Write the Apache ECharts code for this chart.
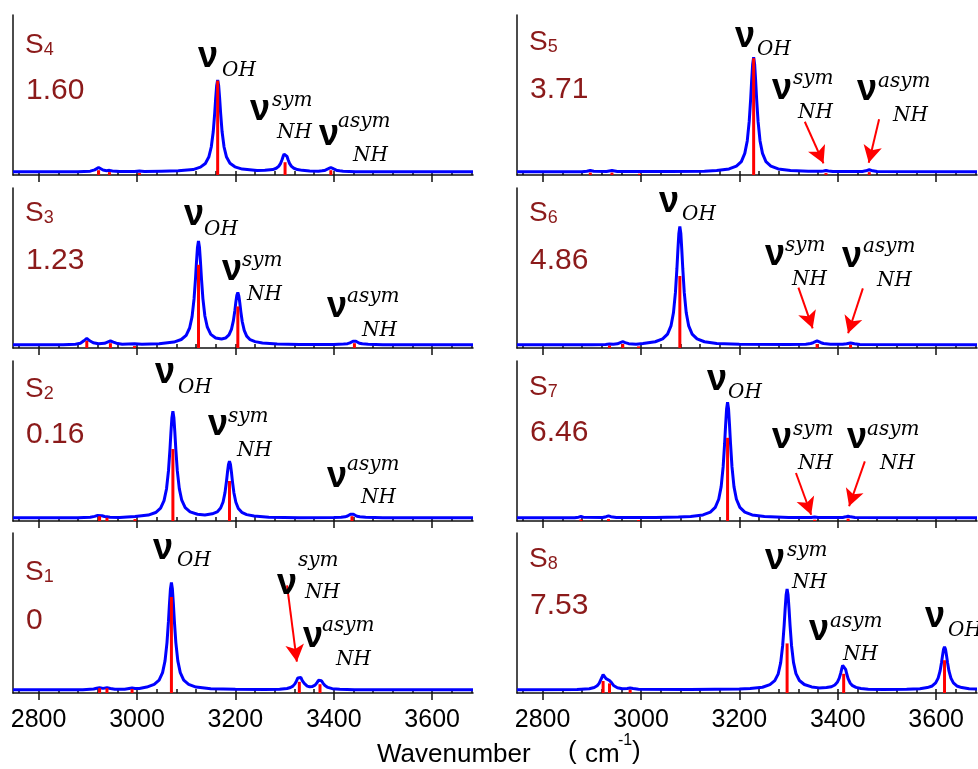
<!DOCTYPE html>
<html>
<head>
<meta charset="utf-8">
<script src="https://cdn.jsdelivr.net/npm/echarts@6/dist/echarts.min.js"></script>
<style>
  html, body { margin: 0; background: #fff; }
  #main { width: 978px; height: 769px; }
</style>
</head>
<body>
<div id="main"></div>
<script>
// wavenumber range and ticks (cm^-1)
const xMin = 2748
const xMax = 3683
const majorTicks = [2800, 3000, 3200, 3400, 3600]
const minorTicks = []
for (let v = 2760; v <= 3680; v += 40) minorTicks.push(v)

// state names and relative energies
const stateNames = ['S4', 'S3', 'S2', 'S1', 'S5', 'S6', 'S7', 'S8']
const energies = ['1.60', '1.23', '0.16', '0', '3.71', '4.86', '6.46', '7.53']

// broadened spectra (blue)
const curveS4 = [[2748,.02],[2880,.021],[2905,.024],[2914,.032],[2918,.039],[2922,.047],[2926,.039],[2931,.031],[2938,.027],[2944,.029],[2950,.025],[2965,.022],[2995,.022],[3005,.025],[3015,.022],[3050,.024],[3084,.026],[3114,.034],[3129,.049],[3139,.072],[3146,.112],[3151,.175],[3155,.27],[3158,.387],[3160,.48],[3162,.56],[3164,.594],[3166,.56],[3168,.48],[3170,.387],[3173,.27],[3177,.175],[3182,.112],[3189,.073],[3199,.051],[3214,.037],[3244,.028],[3260,.029],[3276,.034],[3283,.042],[3288,.054],[3292,.073],[3295,.097],[3297,.116],[3299,.131],[3301,.137],[3303,.131],[3305,.116],[3307,.097],[3310,.073],[3314,.054],[3319,.042],[3326,.034],[3336,.029],[3351,.025],[3369,.024],[3376,.026],[3381,.028],[3385,.033],[3388,.038],[3390,.042],[3394,.047],[3398,.042],[3400,.038],[3403,.033],[3407,.028],[3412,.026],[3419,.024],[3444,.021],[3683,.02]]
const curveS3 = [[2748,.02],[2850,.021],[2875,.024],[2885,.03],[2892,.045],[2895,.053],[2898,.06],[2901,.053],[2904,.045],[2911,.033],[2922,.026],[2934,.029],[2940,.037],[2943,.042],[2946,.045],[2949,.042],[2952,.037],[2958,.03],[2970,.024],[2995,.026],[3010,.024],[3045,.027],[3075,.037],[3090,.053],[3100,.079],[3107,.125],[3112,.196],[3116,.307],[3119,.436],[3121,.54],[3123,.63],[3125,.669],[3127,.63],[3129,.54],[3131,.437],[3134,.309],[3138,.2],[3143,.13],[3150,.085],[3160,.063],[3172,.056],[3180,.062],[3187,.082],[3192,.116],[3196,.171],[3199,.235],[3201,.288],[3203,.33],[3205,.347],[3207,.326],[3209,.282],[3211,.229],[3214,.164],[3218,.11],[3223,.074],[3230,.052],[3240,.04],[3255,.031],[3285,.025],[3330,.022],[3400,.022],[3420,.025],[3428,.027],[3433,.032],[3436,.036],[3439,.042],[3442,.048],[3445,.042],[3448,.036],[3452,.03],[3458,.026],[3470,.023],[3500,.021],[3683,.02]]
const curveS2 = [[2748,.02],[2880,.021],[2905,.024],[2914,.029],[2920,.035],[2924,.038],[2929,.033],[2934,.028],[2939,.027],[2945,.024],[2965,.022],[2980,.025],[2996,.028],[3023,.037],[3038,.053],[3048,.08],[3055,.127],[3060,.2],[3064,.313],[3067,.446],[3069,.553],[3071,.646],[3073,.686],[3075,.646],[3077,.553],[3079,.446],[3082,.313],[3086,.202],[3091,.13],[3098,.084],[3108,.057],[3123,.042],[3138,.038],[3153,.045],[3163,.057],[3170,.081],[3175,.119],[3179,.179],[3182,.25],[3184,.306],[3186,.354],[3188,.373],[3190,.354],[3192,.305],[3194,.248],[3197,.177],[3201,.117],[3206,.078],[3213,.054],[3223,.04],[3238,.031],[3268,.024],[3330,.021],[3400,.022],[3415,.023],[3423,.026],[3428,.031],[3431,.036],[3434,.042],[3437,.048],[3440,.042],[3443,.036],[3447,.03],[3453,.026],[3465,.023],[3500,.021],[3683,.02]]
const curveS1 = [[2748,.02],[2890,.021],[2912,.025],[2918,.03],[2924,.033],[2931,.029],[2939,.033],[2946,.028],[2955,.023],[2975,.023],[2984,.028],[2990,.031],[2996,.028],[3005,.028],[3020,.037],[3035,.054],[3045,.08],[3052,.127],[3057,.201],[3061,.315],[3064,.449],[3066,.556],[3068,.65],[3070,.69],[3072,.65],[3074,.556],[3076,.449],[3079,.315],[3083,.201],[3088,.127],[3095,.08],[3105,.054],[3120,.037],[3150,.027],[3200,.023],[3260,.022],[3290,.024],[3305,.028],[3312,.034],[3317,.043],[3321,.057],[3324,.074],[3327,.094],[3330,.105],[3333,.097],[3336,.077],[3340,.06],[3346,.043],[3351,.039],[3356,.04],[3362,.049],[3366,.065],[3369,.079],[3372,.084],[3375,.077],[3378,.062],[3382,.047],[3388,.035],[3397,.027],[3412,.023],[3442,.021],[3683,.02]]
const curveS5 = [[2748,.02],[2880,.02],[2890,.023],[2897,.028],[2904,.023],[2930,.022],[2941,.028],[2952,.022],[2997,.022],[3060,.022],[3129,.024],[3154,.028],[3179,.038],[3194,.056],[3204,.084],[3211,.135],[3216,.213],[3220,.335],[3223,.478],[3225,.593],[3227,.693],[3229,.736],[3231,.693],[3233,.593],[3235,.478],[3238,.335],[3242,.213],[3247,.135],[3254,.084],[3264,.056],[3279,.038],[3304,.028],[3340,.023],[3366,.023],[3371,.025],[3376,.028],[3381,.025],[3390,.022],[3450,.022],[3457,.026],[3461,.031],[3464,.033],[3467,.031],[3471,.026],[3480,.022],[3683,.02]]
const curveS6 = [[2748,.02],[2900,.021],[2928,.022],[2936,.025],[2944,.023],[2952,.026],[2958,.034],[2963,.04],[2968,.034],[2975,.027],[2990,.023],[2995,.025],[3004,.028],[3029,.039],[3044,.057],[3054,.087],[3061,.138],[3066,.22],[3070,.346],[3073,.494],[3075,.612],[3077,.716],[3079,.76],[3081,.716],[3083,.612],[3085,.494],[3088,.346],[3092,.22],[3097,.138],[3104,.087],[3114,.057],[3129,.039],[3154,.028],[3200,.023],[3300,.022],[3335,.024],[3345,.028],[3350,.033],[3354,.039],[3358,.044],[3362,.039],[3366,.033],[3371,.028],[3385,.023],[3410,.023],[3418,.026],[3422,.029],[3426,.031],[3430,.029],[3434,.026],[3445,.022],[3683,.02]]
const curveS7 = [[2748,.02],[2865,.02],[2873,.024],[2878,.028],[2883,.024],[2922,.022],[2929,.027],[2934,.032],[2939,.027],[2950,.022],[3030,.022],[3076,.025],[3101,.028],[3126,.038],[3141,.056],[3151,.085],[3158,.136],[3163,.215],[3167,.338],[3170,.483],[3172,.598],[3174,.7],[3176,.743],[3178,.7],[3180,.598],[3182,.483],[3185,.338],[3189,.215],[3194,.136],[3201,.085],[3211,.056],[3226,.038],[3251,.028],[3300,.022],[3346,.022],[3353,.025],[3360,.022],[3410,.022],[3416,.026],[3421,.03],[3426,.026],[3435,.022],[3683,.02]]
const curveS8 = [[2748,.02],[2870,.022],[2895,.027],[2905,.034],[2911,.045],[2915,.06],[2918,.08],[2921,.1],[2923,.115],[2926,.105],[2929,.09],[2932,.082],[2936,.078],[2940,.065],[2945,.045],[2952,.033],[2962,.027],[2972,.028],[2978,.031],[2984,.028],[2995,.024],[3100,.022],[3200,.025],[3222,.028],[3247,.036],[3262,.052],[3272,.077],[3279,.12],[3284,.19],[3288,.297],[3291,.423],[3293,.524],[3295,.612],[3297,.65],[3299,.612],[3301,.524],[3303,.423],[3306,.297],[3310,.191],[3315,.121],[3322,.078],[3332,.053],[3347,.038],[3362,.032],[3377,.034],[3387,.039],[3394,.05],[3399,.067],[3403,.093],[3406,.124],[3408,.15],[3410,.172],[3412,.18],[3414,.17],[3416,.148],[3418,.122],[3421,.09],[3425,.063],[3430,.046],[3437,.035],[3447,.028],[3462,.024],[3492,.022],[3540,.023],[3567,.027],[3582,.034],[3592,.044],[3599,.063],[3604,.093],[3608,.138],[3611,.192],[3613,.235],[3615,.273],[3617,.289],[3619,.273],[3621,.235],[3623,.192],[3626,.138],[3630,.093],[3635,.063],[3642,.044],[3652,.034],[3667,.027],[3683,.025]]

// stick spectra (red)
const sticksS4 = [[2922,.03],[2944,.018],[3005,.012],[3164,.59],[3301,.08],[3394,.03]]
const sticksS3 = [[2898,.045],[2946,.03],[2995,.012],[3125,.52],[3205,.26],[3442,.03]]
const sticksS2 = [[2924,.03],[2939,.02],[2996,.012],[3073,.45],[3188,.25],[3437,.03]]
const sticksS1 = [[2924,.03],[2939,.03],[2990,.025],[3070,.6],[3330,.07],[3372,.055]]
const sticksS5 = [[2897,.015],[2941,.015],[2997,.008],[3229,.73],[3376,.012],[3464,.018]]
const sticksS6 = [[2936,.015],[2963,.025],[2995,.01],[3079,.45],[3358,.025],[3426,.02]]
const sticksS7 = [[2878,.01],[2934,.012],[2995,.006],[3176,.52],[3353,.008],[3421,.015]]
const sticksS8 = [[2923,.075],[2936,.06],[2978,.02],[3297,.31],[3412,.12],[3617,.205]]

// arrows pointing at weak NH bands: [x1, y1, x2, y2] in data units
const arrowsS1 = [[3305, .673, 3325, .196]]
const arrowsS5 = [[3333, .333, 3371, .073], [3484, .348, 3463, .077]]
const arrowsS6 = [[3320, .377, 3349, .123], [3451, .373, 3421, .092]]
const arrowsS7 = [[3315, .30, 3346, .039], [3455, .373, 3423, .092]]

const curves = [curveS4, curveS3, curveS2, curveS1, curveS5, curveS6, curveS7, curveS8]
const sticks = [sticksS4, sticksS3, sticksS2, sticksS1, sticksS5, sticksS6, sticksS7, sticksS8]
const arrows = [[], [], [], arrowsS1, arrowsS5, arrowsS6, arrowsS7, []]

// ---- layout (pixels) ----
const colLeft = [13, 517]
const rowTop = [15, 188, 361, 533]
const gridW = 460
const gridH = 160
// [stateLabelCenterY, energyCenterY] per panel
const textY = [[45, 90.5], [213, 261], [389, 435], [572, 621], [42, 90], [213, 261], [387, 433], [559, 606]]
// band labels: [type, nuLeft, nuTop, supLeft, supTop, subLeft, subTop]
const bandLabels = [
  [['OH', 199, 50, 0, 0, 222, 63], ['sym', 251, 103, 272, 97, 277, 125], ['asym', 320, 128, 338, 118, 353, 148]],
  [['OH', 185, 208, 0, 0, 204, 222], ['sym', 223, 263, 242, 257, 247, 287], ['asym', 328, 300, 347, 293, 362, 323]],
  [['OH', 156, 366, 0, 0, 178, 380], ['sym', 209, 418, 228, 413, 237, 443], ['asym', 328, 470, 347, 461, 361, 490]],
  [['OH', 154, 542, 0, 0, 177, 553], ['sym', 278, 577, 298, 557, 305, 585], ['asym', 304, 630, 322, 622, 336, 652]],
  [['OH', 736, 30, 0, 0, 757, 42], ['sym', 773, 82, 793, 75, 798, 105], ['asym', 858, 83, 878, 78, 893, 108]],
  [['OH', 660, 195, 0, 0, 682, 207], ['sym', 766, 248, 785, 242, 792, 272], ['asym', 843, 250, 863, 243, 877, 273]],
  [['OH', 708, 373, 0, 0, 728, 385], ['sym', 773, 431, 793, 426, 798, 456], ['asym', 848, 431, 867, 426, 880, 456]],
  [['sym', 766, 552, 787, 547, 792, 575], ['asym', 810, 623, 830, 618, 843, 647], ['OH', 926, 610, 0, 0, 948, 623]]
]

const darkRed = '#8b1a1a'
const sansFamily = '"Liberation Sans", Arial, sans-serif'
const nuFont = 'bold 36px ' + sansFamily
const itFont = 'italic 20px "DejaVu Serif", serif'

const grids = []
const xAxes = []
const yAxes = []
const series = []
const graphics = []

function txt(text, x, y, font, fill) {
  return { type: 'text', x: x, y: y, z: 100, style: { text: text, font: font, fill: fill || '#000', align: 'left', verticalAlign: 'middle' } }
}

for (let i = 0; i < 8; i++) {
  const col = i < 4 ? 0 : 1
  const row = i % 4
  const bottomRow = row === 3
  grids.push({ left: colLeft[col], top: rowTop[row], width: gridW, height: gridH })
  xAxes.push({
    type: 'value', gridIndex: i, min: xMin, max: xMax,
    axisLine: { show: true, onZero: false, lineStyle: { color: '#111', width: 1.5 } },
    axisTick: { show: true, customValues: majorTicks, length: 7, lineStyle: { color: '#111', width: 1.5 } },
    axisLabel: {
      show: bottomRow, customValues: majorTicks, margin: 15, color: '#000',
      fontSize: 25, fontFamily: sansFamily, formatter: v => String(v)
    },
    splitLine: { show: false }
  })
  xAxes.push({
    type: 'value', gridIndex: i, min: xMin, max: xMax,
    axisLine: { show: false },
    axisTick: { show: true, customValues: minorTicks, length: 4, lineStyle: { color: '#111', width: 1.5 } },
    axisLabel: { show: false },
    splitLine: { show: false }
  })
  yAxes.push({
    type: 'value', gridIndex: i, min: 0, max: 1,
    axisLine: { show: true, lineStyle: { color: '#111', width: 1.5 } },
    axisTick: { show: false }, axisLabel: { show: false }, splitLine: { show: false }
  })
  series.push({
    type: 'line', xAxisIndex: 2 * i, yAxisIndex: i, data: curves[i],
    showSymbol: false, z: 2,
    lineStyle: { color: '#0000ff', width: 3 },
    markLine: arrows[i].length ? {
      silent: true, symbol: ['none', 'arrow'], symbolSize: [14, 17],
      label: { show: false },
      lineStyle: { color: '#ff0000', width: 2, type: 'solid' },
      data: arrows[i].map(a => [{ coord: [a[0], a[1]] }, { coord: [a[2], a[3]] }])
    } : undefined
  })
  series.push({
    type: 'bar', xAxisIndex: 2 * i, yAxisIndex: i, data: sticks[i],
    barWidth: 3, z: 3, itemStyle: { color: '#ff0000' }
  })

  // state name and energy
  const lx = colLeft[col] + 12
  graphics.push({
    type: 'text', x: lx, y: textY[i][0], z: 100,
    style: {
      text: '{s|S}{d|' + stateNames[i].slice(1) + '}', align: 'left', verticalAlign: 'middle',
      rich: {
        s: { fontSize: 28, fontFamily: sansFamily, fill: darkRed, lineHeight: 28, verticalAlign: 'bottom' },
        d: { fontSize: 18, fontFamily: sansFamily, fill: darkRed, lineHeight: 28, verticalAlign: 'bottom' }
      }
    }
  })
  graphics.push(txt(energies[i], lx + 1, textY[i][1], '30px ' + sansFamily, darkRed))

  // band labels
  bandLabels[i].forEach(l => {
    graphics.push(txt('ν', l[1] - 1, l[2] + 7, nuFont))
    if (l[0] === 'OH') {
      graphics.push(txt('OH', l[5], l[6] + 7.7, itFont))
    } else {
      graphics.push(txt(l[0], l[3], l[4] + 3.5, itFont))
      graphics.push(txt('NH', l[5], l[6] + 7.7, itFont))
    }
  })
}

// x axis title
const titleFont = '26px ' + sansFamily
graphics.push(txt('Wavenumber', 377, 755, titleFont))
graphics.push(txt('(', 568, 752, titleFont))
graphics.push(txt('cm', 585, 755, titleFont))
graphics.push(txt('-1', 618, 741, '16px ' + sansFamily))
graphics.push(txt(')', 632, 752, titleFont))

const chart = echarts.init(document.getElementById('main'))
chart.setOption({
  animation: false,
  backgroundColor: '#fff',
  grid: grids,
  xAxis: xAxes,
  yAxis: yAxes,
  series: series,
  graphic: graphics
})
</script>
</body>
</html>
